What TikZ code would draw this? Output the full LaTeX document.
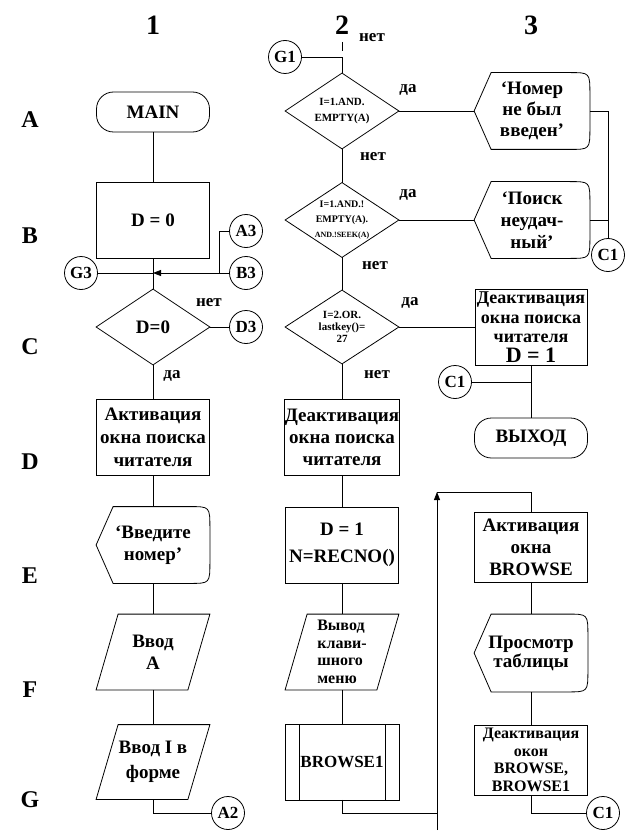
\documentclass[tikz,border=0pt]{standalone}
\usepackage{fontspec}
\setmainfont{Liberation Serif}
\usetikzlibrary{calc,arrows.meta}
\tikzset{
  txt/.style={font=\fontsize{19}{22}\selectfont\bfseries, align=center, inner sep=0pt},
  frame/.style={txt, rectangle, minimum width=113pt, minimum height=76pt},
  proc/.style={frame, draw},
  term/.style={txt, draw, rounded corners=17pt, minimum width=113pt, minimum height=40pt},
  conn/.style={draw, circle, minimum size=33pt, inner sep=0pt, font=\fontsize{17}{17}\selectfont\bfseries},
  lbl/.style={font=\fontsize{17}{17}\selectfont\bfseries, inner sep=0pt},
  head/.style={font=\fontsize{28}{28}\selectfont\bfseries, inner sep=0pt},
  rowlbl/.style={font=\fontsize{24}{24}\selectfont\bfseries, inner sep=0pt},
  dtext/.style={font=\fontsize{11}{16}\selectfont\bfseries},
  arr/.style={-{Triangle[length=8pt,width=6pt]}},
}
\newcommand\mkdiamond[1]{\draw (#1.north) -- (#1.east) -- (#1.south) -- (#1.west) -- cycle;}
\newcommand\mkpara[1]{\draw ($(#1.north west)+(22,0)$) -- (#1.north east) -- ($(#1.south east)+(-22,0)$) -- (#1.south west) -- cycle;}
\newcommand\mkdisp[1]{\draw (#1.west) -- ($(#1.north west)+(17,0)$) -- ($(#1.north east)+(-20,0)$) .. controls (#1.north east) .. ($(#1.north east)+(0,22)$) -- ($(#1.south east)+(0,-22)$) .. controls (#1.south east) .. ($(#1.south east)+(-20,0)$) -- ($(#1.south west)+(17,0)$) -- cycle;}
\newcommand\mkpredef[1]{\draw (#1.north west) rectangle (#1.south east); \draw ($(#1.north west)+(14,0)$) -- ($(#1.south west)+(14,0)$); \draw ($(#1.north east)+(-14,0)$) -- ($(#1.south east)+(-14,0)$);}
\begin{document}
\begin{tikzpicture}[x=1pt,y=-1pt,line width=0.8pt]
\useasboundingbox (0,0) rectangle (630,837);
\fill[white] (0,0) rectangle (630,837);

% headers
\node[head] (h1) at (153,25) {1};
\node[head] (h2) at (342,25) {2};
\node[head] (h3) at (531,25) {3};
\node[rowlbl] (rA) at (30,120) {A};
\node[rowlbl] (rB) at (30,236) {B};
\node[rowlbl] (rC) at (30,347) {C};
\node[rowlbl] (rD) at (30,462) {D};
\node[rowlbl] (rE) at (30,576) {E};
\node[rowlbl] (rF) at (30,690) {F};
\node[rowlbl] (rG) at (30,800) {G};

% column 1
\node[term] (main) at (153,112) {MAIN};
\node[proc] (d0) at (153,220) {D = 0};
\node[frame, minimum height=75pt] (q1) at (153,327) {D=0};
\mkdiamond{q1}
\node[conn] (G3) at (81,273) {G3};
\node[conn] (A3) at (246,231) {A3};
\node[conn] (B3) at (246,273) {B3};
\node[conn] (D3) at (246,327) {D3};
\node[proc, font=\fontsize{19}{23}\selectfont\bfseries] (act) at (153,437) {Активация\\окна поиска\\читателя};
\node[frame] (vved) at (153,545) {‘Введите\\номер’};
\mkdisp{vved}
\node[frame, minimum height=75pt] (vvodA) at (153,652) {Ввод\\A};
\mkpara{vvodA}
\node[frame, minimum height=74pt, font=\fontsize{19}{25}\selectfont\bfseries] (vvodI) at (153,762) {Ввод I в\\форме};
\mkpara{vvodI}
\node[conn] (A2) at (228,813) {A2};

\node[lbl] (l1) at (209,303) {нет};
\node[lbl] (l2) at (172,376) {да};

\coordinate (j1) at (153,273);
\coordinate (j2) at (219,273);
\draw (main) -- (d0);
\draw (d0) -- (q1.north);
\draw (G3) -- (j1);
\draw[arr] (B3) -- (j1);
\draw (A3) -| (j2);
\draw (q1.east) -- (D3);
\draw (q1.south) -- (act);
\draw (act) -- (vved.north);
\draw (vved.south) -- (vvodA.north);
\draw (vvodA.south) -- (vvodI.north);
\draw (vvodI.south) |- (A2);

% column 2
\coordinate (t2a) at (342,42);
\coordinate (t2b) at (342,51);
\draw (t2a) -- (t2b);
\node[lbl] (l3) at (372,38) {нет};
\node[conn] (G1) at (285,57) {G1};
\node[frame, minimum height=75pt, dtext] (q2) at (342,111) {I=1.AND.\\EMPTY(A)};
\mkdiamond{q2}
\node[frame, minimum height=74pt, font=\fontsize{10}{15}\selectfont\bfseries] (q3) at (342,220) {I=1.AND.!\\EMPTY(A).\\{\fontsize{8}{12}\selectfont AND.!SEEK(A)}};
\mkdiamond{q3}
\node[frame, minimum height=73pt, font=\fontsize{11}{12}\selectfont\bfseries] (q4) at (342,327) {I=2.OR.\\lastkey()=\\27};
\mkdiamond{q4}
\node[proc] (deact2) at (342,437) {Деактивация\\окна поиска\\читателя};
\node[proc, font=\fontsize{19}{27}\selectfont\bfseries] (recno) at (342,545) {D = 1\\N=RECNO()};
\node[frame, minimum height=75pt, align=left, font=\fontsize{16}{17.5}\selectfont\bfseries] (menu) at (342,652) {Вывод\\клави-\\шного\\меню};
\mkpara{menu}
\node[frame, minimum height=75pt, font=\fontsize{17}{20}\selectfont\bfseries] (br1) at (342,762) {BROWSE1};
\mkpredef{br1}

\node[lbl] (l4) at (408,90) {да};
\node[lbl] (l5) at (373,157) {нет};
\node[lbl] (l6) at (408,195) {да};
\node[lbl] (l7) at (375,266) {нет};
\node[lbl] (l8) at (410,303) {да};
\node[lbl] (l9) at (377,375) {нет};

\draw (G1) -| (q2.north);
\draw (q2.south) -- (q3.north);
\draw (q3.south) -- (q4.north);
\draw (q4.south) -- (deact2);
\draw (deact2) -- (recno);
\draw (recno) -- (menu.north);
\draw (menu.south) -- (br1.north);

% column 3
\node[frame, minimum width=115pt, font=\fontsize{19}{21}\selectfont\bfseries] (msg1) at (532,111) {‘Номер\\не был\\введен’};
\mkdisp{msg1}
\node[frame, minimum width=115pt, font=\fontsize{19}{22}\selectfont\bfseries] (msg2) at (532,220) {‘Поиск\\неудач-\\ный’};
\mkdisp{msg2}
\node[conn] (C1a) at (608,255) {C1};
\node[proc, minimum width=112pt, font=\fontsize{18}{19.5}\selectfont\bfseries] (deact1) at (531,327) {Деактивация\\окна поиска\\читателя\\{\fontsize{22}{22}\selectfont D = 1}};
\node[conn] (C1b) at (455,382) {C1};
\node[term] (exit) at (531,438) {ВЫХОД};
\node[proc, minimum height=70pt] (actb) at (531,547) {Активация\\окна\\BROWSE};
\node[frame, minimum height=77pt, font=\fontsize{19}{19}\selectfont\bfseries] (view) at (531,653) {Просмотр\\таблицы};
\mkdisp{view}
\node[proc, minimum height=70pt, font=\fontsize{16}{17.5}\selectfont\bfseries] (deact3) at (531,760) {Деактивация\\окон\\BROWSE,\\BROWSE1};
\node[conn] (C1c) at (603,813) {C1};

\draw (q2.east) -- (msg1.west);
\draw (q3.east) -- (msg2.west);
\draw (msg1.east) -| (C1a);
\draw (msg2.east) -- (msg2.east -| C1a);
\draw (q4.east) -- (q4.east -| deact1.west);
\draw (deact1) -- (exit);
\draw (C1b) -- (C1b -| exit);

\coordinate (lp) at (437,813);
\coordinate (lpbot) at (437,830);
\coordinate (lptop) at (437,492);
\draw (br1.south) |- (lp);
\draw[arr] (lpbot) -- (lptop);
\draw (lptop) -| (actb.north);
\draw (actb) -- (view.north);
\draw (view.south) -- (deact3);
\draw (deact3.south) |- (C1c);
\end{tikzpicture}
\end{document}
